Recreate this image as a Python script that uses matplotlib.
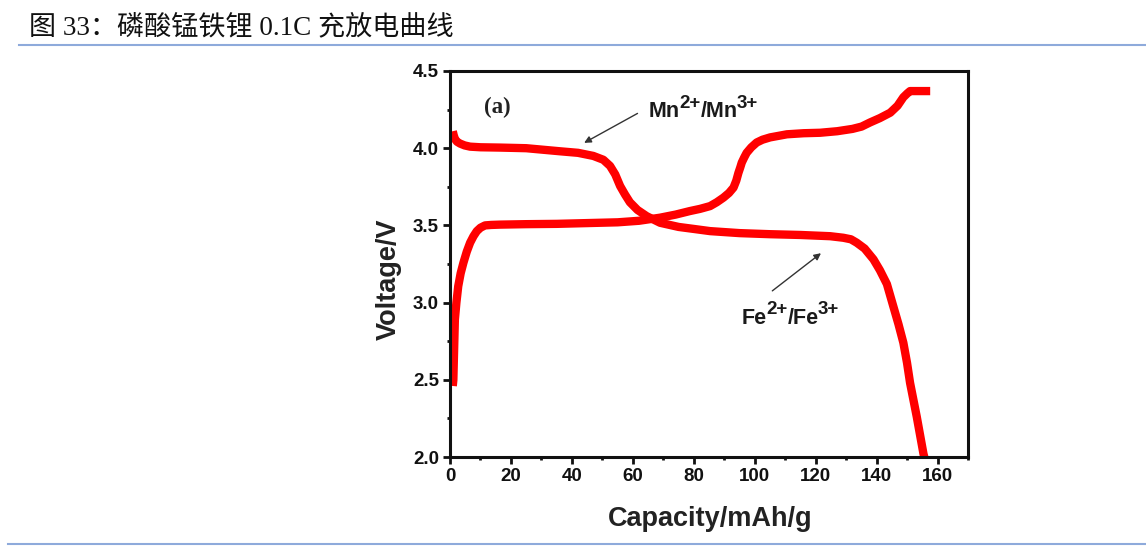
import matplotlib
matplotlib.use("Agg")
import matplotlib.pyplot as plt
from matplotlib.lines import Line2D
from matplotlib.ticker import MultipleLocator

# ---- data ----
charge_cap = [0.9, 1.1, 1.6, 2.1, 2.7, 3.5, 4.4, 5.5, 6.6, 7.7, 8.8, 10.0, 11.5, 13.5, 16.4,
              25, 35, 45, 55, 62, 68.9, 74, 78.7, 82, 85.3, 87.5, 89.7, 91.5, 93.0,
              93.9, 94.6, 95.2, 95.7, 96.5, 97.3, 98.8, 100.6, 102.5, 105, 110.5,
              116, 121.4, 127, 132, 135, 137.8, 141, 144.4, 146.8, 148.7, 150.0,
              150.9, 154, 157.5]
charge_v = [2.46, 2.50, 2.89, 3.00, 3.106, 3.19, 3.258, 3.33, 3.388, 3.43, 3.463, 3.485, 3.50,
            3.503, 3.505, 3.508, 3.51, 3.515, 3.52, 3.53, 3.55, 3.57, 3.593, 3.607, 3.625,
            3.65, 3.68, 3.71, 3.745, 3.79, 3.84, 3.875, 3.907, 3.94, 3.97, 4.005, 4.037,
            4.055, 4.07, 4.09, 4.097, 4.10, 4.11, 4.125, 4.14, 4.167, 4.195, 4.23,
            4.275, 4.33, 4.355, 4.37, 4.37, 4.37]

discharge_cap = [0.9, 1.2, 1.6, 2.3, 3.3, 4.8, 6.6, 10, 16.4, 25, 36.1, 42, 47, 50.3,
                 52.5, 54.2, 55.8, 57.4, 59.0, 61.5, 64.5, 68.9, 75, 80, 85.3, 95, 105,
                 115, 124.7, 129, 131.5, 133.4, 136.0, 138.9, 141, 143.3, 145.4,
                 147.1, 148.7, 149.9, 150.9, 152, 153.1, 154.2, 155.3, 155.7]
discharge_v = [4.11, 4.085, 4.06, 4.042, 4.03, 4.018, 4.01, 4.006, 4.004, 4.0, 3.98, 3.97, 3.95,
               3.925, 3.885, 3.83, 3.755, 3.70, 3.65, 3.60, 3.56, 3.517, 3.49, 3.477, 3.463,
               3.45, 3.443, 3.438, 3.43, 3.42, 3.41, 3.388, 3.35, 3.28, 3.21, 3.12, 2.976,
               2.86, 2.74, 2.61, 2.48, 2.37, 2.26, 2.14, 2.02, 1.99]

title = "图 33：磷酸锰铁锂 0.1C 充放电曲线"
xlabel = "Capacity/mAh/g"
ylabel = "Voltage/V"
panel = "(a)"
mn_parts = [("Mn", False), ("2+", True), ("/Mn", False), ("3+", True)]
fe_parts = [("Fe", False), ("2+", True), ("/Fe", False), ("3+", True)]
xticks = [0, 20, 40, 60, 80, 100, 120, 140, 160]
yticks = [2.0, 2.5, 3.0, 3.5, 4.0, 4.5]

W, H = 1146, 548
fig = plt.figure(figsize=(W / 100, H / 100), dpi=100)

def fx(px):
    return px / W

def fy(py):
    return 1 - py / H

ax = fig.add_axes([fx(450), fy(457), fx(968.3) - fx(450), fy(71) - fy(457)])
for cx, cy in ((charge_cap, charge_v), (discharge_cap, discharge_v)):
    ax.plot(cx, cy, color="#ff0000", lw=6.0, solid_joinstyle="round",
            solid_capstyle="butt")
ax.set_xlim(0, 170)
ax.set_ylim(2.0, 4.5)
ax.set_xticks(xticks)
ax.set_yticks(yticks)
ax.xaxis.set_minor_locator(MultipleLocator(10))
ax.yaxis.set_minor_locator(MultipleLocator(0.25))
ax.set_xticklabels([str(t) for t in xticks])
ax.set_yticklabels([f"{t:.1f}" for t in yticks])
for s in ax.spines.values():
    s.set_linewidth(2.2)
    s.set_color("#111111")
ax.tick_params(which="major", direction="out", length=5, width=2, labelsize=13.5,
               pad=3, colors="#111111")
ax.tick_params(which="minor", direction="out", length=2.5, width=2, colors="#111111")
for lab in ax.get_xticklabels() + ax.get_yticklabels():
    lab.set_fontweight("bold")
    lab.set_fontfamily("Liberation Sans")

ax.text(11.0, 4.265, panel, fontsize=16.5, fontweight="bold", family="Liberation Serif",
        ha="left", va="center", color="#222222")
ax.annotate("", xy=(43.2, 4.026), xytext=(62.3, 4.234),
            arrowprops=dict(arrowstyle="-|>", color="#333333", lw=1.0,
                            mutation_scale=10))
ax.annotate("", xy=(122.4, 3.331), xytext=(105, 3.065),
            arrowprops=dict(arrowstyle="-|>", color="#333333", lw=1.0,
                            mutation_scale=10))

renderer = fig.canvas.get_renderer()

def ion_label(px, py_base, parts):
    x = px
    for s, sup in parts:
        t = fig.text(x / W, 1 - (py_base - (9.5 if sup else 0)) / H, s,
                     fontsize=13.5 if sup else 15.5, fontweight="bold",
                     family="Liberation Sans", ha="left", va="baseline",
                     color="#1a1a1a")
        bb = t.get_window_extent(renderer)
        x = bb.x1 - 0.5

ion_label(649, 117, mn_parts)
ion_label(742, 324, fe_parts)

fig.text(fx(710), fy(519), xlabel, fontsize=19.5, fontweight="bold",
         family="Liberation Sans", ha="center", va="center", color="#222222")
fig.text(fx(389), fy(279), ylabel, fontsize=19.5, fontweight="bold", rotation=90,
         family="Liberation Sans", ha="center", va="center", color="#222222")

fig.text(fx(29), fy(27), title, fontsize=19.5, family=["Liberation Serif", "Noto Sans CJK SC"],
         ha="left", va="center", color="#111111")

fig.add_artist(Line2D([fx(19), 1], [fy(45), fy(45)], color="#8eaadb", lw=1.5))
fig.add_artist(Line2D([fx(8), 1], [fy(544), fy(544)], color="#8eaadb", lw=1.5))

fig.savefig("out.png", dpi=100)
